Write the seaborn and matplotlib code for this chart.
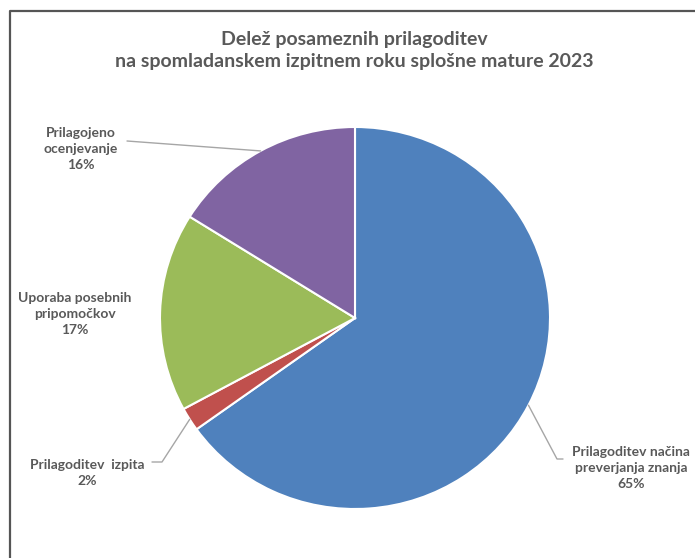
import matplotlib
matplotlib.use("Agg")
import matplotlib.pyplot as plt
from matplotlib.lines import Line2D
import numpy as np
import seaborn as sns

# slices in drawing order (clockwise from 12 o'clock)
categories = [
    "Prilagoditev načina\npreverjanja znanja",
    "Prilagoditev  izpita",
    "Uporaba posebnih\npripomočkov",
    "Prilagojeno\nocenjevanje",
]
shares = [65.1, 2.0, 16.8, 16.1]
slice_colors = ["#4F81BD", "#C0504D", "#9BBB59", "#8064A2"]

title_lines = [
    "Delež posameznih prilagoditev",
    "na spomladanskem izpitnem roku splošne mature 2023",
]

W, H = 695, 558
TEXT = "#595959"

sns.set_theme(style="white")
plt.rcParams["font.family"] = ["Lato", "DejaVu Sans"]
palette = sns.color_palette(slice_colors)

fig = plt.figure(figsize=(W / 100, H / 100), dpi=100)
fig.patch.set_facecolor("white")


def px(x, y):
    # pixel (top-left origin) -> figure fraction
    return x / W, 1 - y / H


# pie is drawn slightly stretched, like the original
cx, cy, rx, ry = 355, 318, 195, 191
ax = fig.add_axes([(cx - rx) / W, 1 - (cy + ry) / H, 2 * rx / W, 2 * ry / H])
wedges, _ = ax.pie(
    shares,
    colors=palette,
    startangle=90,
    counterclock=False,
    wedgeprops=dict(edgecolor="white", linewidth=1.5),
)
ax.set_xlim(-1, 1)
ax.set_ylim(-1, 1)
ax.set_aspect("auto")
ax.axis("off")

# title
fig.text(*px(354, 40), title_lines[0], ha="center", va="center",
         fontsize=14, fontweight="bold", color=TEXT)
fig.text(*px(354, 62), title_lines[1], ha="center", va="center",
         fontsize=14, fontweight="bold", color=TEXT)

# label placement (pixel centre of text block) and leader path end points
label_xy = [(631, 468), (87, 473), (75, 314), (81, 149)]
leaders = [
    [(557, 459), (563, 459)],
    [(162, 462), (152, 462)],
    None,
    [(127, 141)],
]

to_fig = ax.transData + fig.transFigure.inverted()
for w, cat, val, (lx, ly), path in zip(wedges, categories, shares, label_xy, leaders):
    fig.text(*px(lx, ly), f"{cat}\n{round(val)}%", ha="center", va="center",
             fontsize=10, fontweight="bold", color=TEXT, linespacing=1.4,
             multialignment="center")
    if path is None:
        continue
    mid = np.deg2rad((w.theta1 + w.theta2) / 2)
    anchor = to_fig.transform((np.cos(mid), np.sin(mid)))
    pts = [tuple(anchor)] + [px(*p) for p in path]
    xs, ys = zip(*pts)
    fig.add_artist(Line2D(xs, ys, transform=fig.transFigure,
                          color="#A6A6A6", linewidth=1))

# chart area border (left and top edges visible in the crop)
fig.add_artist(Line2D([9.5 / W, 9.5 / W, 1], [0, 1 - 10.5 / H, 1 - 10.5 / H],
                      transform=fig.transFigure, color="#555555", linewidth=1.6))

fig.savefig("out.png", dpi=100, facecolor="white")
